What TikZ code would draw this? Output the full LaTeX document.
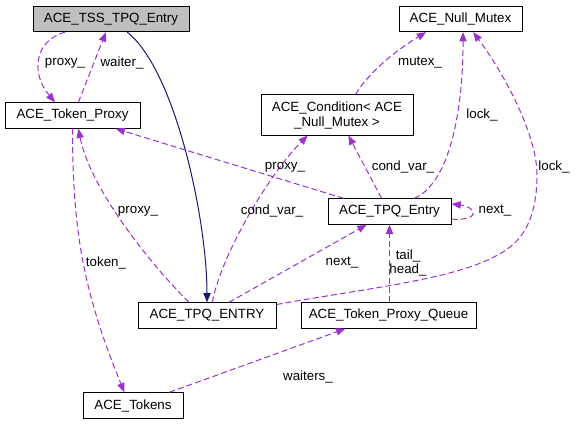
\documentclass[tikz,border=0pt]{standalone}
\usepackage{fontspec}
\setmainfont{Liberation Sans}
\usepackage{xcolor}
\usepackage{tikz}
\usetikzlibrary{arrows.meta}
\definecolor{relcol}{RGB}{154,50,205}
\definecolor{inhcol}{RGB}{25,25,112}
\definecolor{tssgray}{RGB}{191,191,191}

\begin{document}
\begin{tikzpicture}[
    x=0.75pt, y=-0.75pt,
    box/.style={draw, line width=0.75pt, fill=white, minimum height=19pt, inner sep=2pt, font=\fontsize{10}{11.25}\selectfont},
    lbl/.style={font=\fontsize{10}{10.5}\selectfont, inner sep=1pt, align=center},
    rel/.style={draw=relcol, line width=0.75pt, dash pattern=on 4.5pt off 2.4pt, -{Triangle[length=7pt, width=5.5pt]}},
    inh/.style={draw=inhcol, line width=0.75pt, -{Triangle[length=7pt, width=5.5pt]}},
]
\useasboundingbox (0,0) rectangle (577,424);
\node[box, fill=tssgray, minimum width=117pt] (tss) at (111,19) {ACE\_TSS\_TPQ\_Entry};
\node[box, minimum width=101.25pt] (proxy) at (72.5,115.5) {ACE\_Token\_Proxy};
\node[box, minimum width=92.25pt] (mutex) at (460.5,19) {ACE\_Null\_Mutex};
\node[box, minimum width=114pt, minimum height=30pt, align=center] (cond) at (337,115) {ACE\_Condition< ACE\\\_Null\_Mutex >};
\node[box, minimum width=92.25pt] (entry) at (389.5,211.5) {ACE\_TPQ\_Entry};
\node[box, minimum width=103.5pt] (entrydef) at (207,315.5) {ACE\_TPQ\_ENTRY};
\node[box, minimum width=131.25pt] (queue) at (388.5,315.5) {ACE\_Token\_Proxy\_Queue};
\node[box, minimum width=75pt] (tokens) at (133,405.5) {ACE\_Tokens};
\draw[rel] (tss.196) .. controls +(-30,8) and +(-25,-30) .. (proxy.143);
\draw[rel] (proxy.66) -- (tss.249);
\draw[inh] (tss.321) .. controls +(48,38) and +(0,-83) .. (entrydef.north);
\draw[rel] (entry.164) -- (proxy.343);
\draw[rel] (entrydef.144) .. controls +(-40,-40) and +(12,60) .. (proxy.294);
\draw[rel] (proxy.south) .. controls +(0,102) and +(-41,-100) .. (tokens.123);
\draw[rel] (entrydef.68) .. controls +(8,-45) and +(-40,40) .. (cond.215);
\draw[rel] (entry.121) -- (cond.299);
\draw[rel] (cond.48) .. controls +(15,-25) and +(-25,15) .. (mutex.201);
\draw[rel] (entry.28) .. controls +(35,-15) and +(0,80) .. (mutex.281);
\draw[rel] (entrydef.9) .. controls (380,286) and (470,278) .. (510,247) .. controls (530,232) and (537,205) .. (537,175) .. controls (537,135) and (505,75) .. (mutex.314);
\draw[rel] (entrydef.31) -- (entry.210);
\draw[rel] (queue.north -| entry.south) -- (entry.south);
\draw[rel] (entry.353) .. controls +(30,2) and +(25,3) .. (entry.7);
\draw[rel] (tokens.20) -- (queue.197.5);
\node[lbl] (lproxytss) at (65,63) {proxy\_};
\node[lbl] (lwaiter) at (122,63) {waiter\_};
\node[lbl] (lmutex) at (420,63) {mutex\_};
\node[lbl] (llockentry) at (482,115) {lock\_};
\node[lbl] (lproxyentry) at (285,167) {proxy\_};
\node[lbl] (lcondentry) at (403,167) {cond\_var\_};
\node[lbl] (llockdef) at (554,167) {lock\_};
\node[lbl] (lproxydef) at (138,211) {proxy\_};
\node[lbl] (lconddef) at (272,211) {cond\_var\_};
\node[lbl] (lnextself) at (495,211) {next\_};
\node[lbl] (lqueue) at (408,263) {tail\_\\head\_};
\node[lbl] (lnextdef) at (342,263) {next\_};
\node[lbl] (ltoken) at (106,263) {token\_};
\node[lbl] (lwaiters) at (308,377) {waiters\_};
\end{tikzpicture}
\end{document}
